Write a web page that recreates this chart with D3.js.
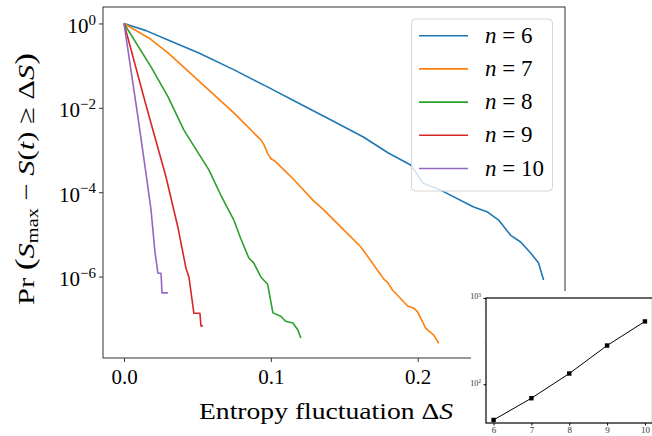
<!DOCTYPE html>
<html><head><meta charset="utf-8">
<script src="https://cdn.jsdelivr.net/npm/d3@7"></script>
<style>
html,body{margin:0;padding:0;background:#fff;}
svg{display:block;}
text{font-family:"Liberation Serif","Times New Roman",serif;}
</style></head>
<body>
<svg id="chart" width="652" height="436"></svg>
<script>
// ---------- data ----------
const seriesLabels = ["6", "7", "8", "9", "10"];
const seriesColors = ["#1f77b4", "#ff7f0e", "#2ca02c", "#d62728", "#9467bd"];

const ds6 = [0, 0.015, 0.030, 0.051, 0.075, 0.098, 0.120, 0.141, 0.163, 0.180, 0.1952, 0.1986, 0.2034, 0.2156, 0.2381, 0.2476, 0.2551, 0.2633, 0.2701, 0.2769, 0.2823, 0.2857];
const p6  = [1, 0.676, 0.407, 0.200, 0.0794, 0.0309, 0.0123, 5.13e-3, 2.04e-3, 8.5e-4, 4.42e-4, 3.02e-4, 1.66e-4, 1.12e-4, 4.47e-5, 3.39e-5, 2.19e-5, 9.5e-6, 6.6e-6, 3.63e-6, 2.09e-6, 8.3e-7];

const ds7 = [0, 0.018, 0.030, 0.0524, 0.0748, 0.0932, 0.0954, 0.0978, 0.100, 0.1034, 0.1159, 0.1286, 0.136, 0.1476, 0.1612, 0.1726, 0.1769, 0.1794, 0.1828, 0.1932, 0.1973, 0.1998, 0.2054, 0.2109, 0.2143];
const p7  = [1, 0.427, 0.200, 0.0389, 7.59e-3, 1.74e-3, 1.32e-3, 8.3e-4, 6.3e-4, 5.25e-4, 1.95e-4, 6.5e-5, 3.8e-5, 1.51e-5, 5.1e-6, 1.41e-6, 8.7e-7, 7.4e-7, 4.8e-7, 2.0e-7, 1.78e-7, 1.48e-7, 6.0e-8, 4.1e-8, 2.63e-8];

const ds8 = [0, 0.0184, 0.030, 0.0408, 0.0578, 0.0658, 0.0748, 0.0794, 0.085, 0.0884, 0.0932, 0.0978, 0.1014, 0.1068, 0.110, 0.1150, 0.1184, 0.1204];
const p8  = [1, 0.0933, 0.0182, 2.95e-3, 3.39e-4, 8.7e-5, 2.19e-5, 8.1e-6, 2.75e-6, 2.09e-6, 9.8e-7, 6.6e-7, 1.38e-7, 1.15e-7, 8.7e-8, 7.9e-8, 5.4e-8, 3.5e-8];

const ds9 = [0, 0.0143, 0.0286, 0.0367, 0.0422, 0.0442, 0.0476, 0.0517, 0.0524, 0.0537];
const p9  = [1, 0.0141, 2.29e-4, 1.48e-5, 1.58e-6, 9.8e-7, 1.35e-7, 1.35e-7, 6.8e-8, 6.8e-8];

const ds10 = [0, 0.0095, 0.0156, 0.0184, 0.0211, 0.0231, 0.0252, 0.0259, 0.0299];
const p10  = [1, 6.0e-3, 1.95e-4, 3.8e-5, 3.8e-6, 1.2e-6, 1.2e-6, 4.1e-7, 4.1e-7];

const xTicks = [0.0, 0.1, 0.2];
const xTickLabels = ["0.0", "0.1", "0.2"];
const yTicks = [1, 1e-2, 1e-4, 1e-6];
const yTickExps = ["0", "−2", "−4", "−6"];

// inset data
const insetN = [6, 7, 8, 9, 10];
const insetVals = [38.5, 68.8, 133, 281, 535];
const insetYTicks = [100, 1000];
const insetYExps = ["2", "3"];

// ---------- layout ----------
const svg = d3.select("#chart");
const M = {left: 103, right: 565, top: 7, bottom: 358};

const x = d3.scaleLinear().domain([-0.0143, 0.3003]).range([M.left, M.right]);
const y = d3.scaleLog().domain([Math.pow(10, -7.93), Math.pow(10, 0.39)]).range([M.bottom, M.top]);

const series = [
  {ds: ds6, p: p6}, {ds: ds7, p: p7}, {ds: ds8, p: p8}, {ds: ds9, p: p9}, {ds: ds10, p: p10}
];

const line = d3.line().x(d => x(d[0])).y(d => y(d[1]));

const gLines = svg.append("g");
series.forEach((s, i) => {
  const pts = s.ds.map((d, j) => [d, s.p[j]]);
  gLines.append("path").attr("d", line(pts))
    .attr("fill", "none").attr("stroke", seriesColors[i]).attr("stroke-width", 1.6)
    .attr("stroke-linejoin", "round");
});

// frame
svg.append("rect").attr("x", M.left).attr("y", M.top)
  .attr("width", M.right - M.left).attr("height", M.bottom - M.top)
  .attr("fill", "none").attr("stroke", "#333").attr("stroke-width", 1);

// x axis
const xAxis = d3.axisBottom(x).tickValues(xTicks).tickSize(4).tickFormat((d, i) => xTickLabels[i]);
const gx = svg.append("g").attr("transform", `translate(0,${M.bottom})`).call(xAxis);
gx.select(".domain").remove();
gx.selectAll(".tick line").attr("stroke", "#333");
gx.selectAll(".tick text").attr("font-family", "Liberation Serif, serif").attr("font-size", 21).attr("fill", "#000").attr("dy", "0.9em");

// y axis
const yAxis = d3.axisLeft(y).tickValues(yTicks).tickSize(4).tickFormat("");
const gy = svg.append("g").attr("transform", `translate(${M.left},0)`).call(yAxis);
gy.select(".domain").remove();
gy.selectAll(".tick line").attr("stroke", "#333");
gy.selectAll(".tick").each(function(d, i) {
  const t = d3.select(this).append("text")
    .attr("x", -7).attr("y", 0).attr("dy", "0.42em")
    .attr("text-anchor", "end").attr("fill", "#000")
    .attr("font-family", "Liberation Serif, serif").attr("font-size", 21);
  t.append("tspan").text("10");
  t.append("tspan").attr("dy", "-0.55em").attr("font-size", 15).text(yTickExps[i]);
});

// axis labels
const xl = svg.append("text").attr("x", 326).attr("y", 419).attr("text-anchor", "middle")
  .attr("font-size", 24).attr("fill", "#000")
  .attr("textLength", 254).attr("lengthAdjust", "spacingAndGlyphs");
xl.append("tspan").text("Entropy fluctuation Δ");
xl.append("tspan").attr("font-style", "italic").text("S");

const yl = svg.append("text").attr("transform", "translate(34,179) rotate(-90)")
  .attr("text-anchor", "middle").attr("font-size", 24).attr("fill", "#000")
  .attr("textLength", 252).attr("lengthAdjust", "spacingAndGlyphs");
yl.append("tspan").text("Pr ");
yl.append("tspan").attr("font-size", 28).text("(");
yl.append("tspan").attr("font-style", "italic").text("S");
yl.append("tspan").attr("font-size", 16).attr("dy", 4).text("max");
yl.append("tspan").attr("dy", -4).text("  −  ");
yl.append("tspan").attr("font-style", "italic").text("S");
yl.append("tspan").text("(");
yl.append("tspan").attr("font-style", "italic").text("t");
yl.append("tspan").text(")  ≥  Δ");
yl.append("tspan").attr("font-style", "italic").text("S");
yl.append("tspan").attr("font-size", 28).text(")");

// legend
const lg = svg.append("g");
lg.append("rect").attr("x", 411.5).attr("y", 19).attr("width", 141).attr("height", 172)
  .attr("rx", 4).attr("fill", "#fff").attr("fill-opacity", 0.8)
  .attr("stroke", "#d6d6d6").attr("stroke-width", 1);
const legY = d3.scalePoint().domain(seriesLabels).range([35.7, 168.5]);
seriesLabels.forEach((lab, i) => {
  const yy = legY(lab);
  lg.append("line").attr("x1", 419).attr("x2", 468).attr("y1", yy).attr("y2", yy)
    .attr("stroke", seriesColors[i]).attr("stroke-width", 1.6);
  const t = lg.append("text").attr("x", 485).attr("y", yy + 7).attr("font-size", 23).attr("fill", "#000");
  t.append("tspan").attr("font-style", "italic").text("n");
  t.append("tspan").text(" = " + lab);
});

// ---------- inset ----------
svg.append("rect").attr("x", 471).attr("y", 291).attr("width", 181).attr("height", 145).attr("fill", "#fff");
const I = {left: 486, right: 652.5, top: 298, bottom: 423};
const ix = d3.scaleLinear().domain([5.8, 10.2]).range([I.left, I.right]);
const iy = d3.scaleLog().domain([Math.pow(10, 1.55), 1000]).range([I.bottom, I.top]);

svg.append("path").attr("d", d3.line().x(d => ix(d[0])).y(d => iy(d[1]))(insetN.map((n, i) => [n, insetVals[i]])))
  .attr("fill", "none").attr("stroke", "#000").attr("stroke-width", 1);
svg.append("g").selectAll("rect").data(insetN).join("rect")
  .attr("x", (d) => ix(d) - 2.2).attr("y", (d, i) => iy(insetVals[i]) - 2.2)
  .attr("width", 4.4).attr("height", 4.4).attr("fill", "#000");

svg.append("rect").attr("x", I.left).attr("y", I.top).attr("width", I.right - I.left).attr("height", I.bottom - I.top)
  .attr("fill", "none").attr("stroke", "#000").attr("stroke-width", 1.2);

const gix = svg.append("g").attr("transform", `translate(0,${I.bottom})`)
  .call(d3.axisBottom(ix).tickValues(insetN).tickSize(2.5).tickFormat(d3.format("d")));
gix.select(".domain").remove();
gix.selectAll(".tick text").attr("font-family", "Liberation Serif, serif").attr("font-size", 9).attr("fill", "#333").attr("dy", "0.55em");

const minorTicks = [40, 50, 60, 70, 80, 90, 200, 300, 400, 500, 600, 700, 800, 900];
const giy = svg.append("g").attr("transform", `translate(${I.left},0)`)
  .call(d3.axisLeft(iy).tickValues(minorTicks).tickSize(1.5).tickFormat(""));
giy.select(".domain").remove();
giy.selectAll(".tick line").attr("stroke", "#888").attr("stroke-width", 0.6);
const giy2 = svg.append("g").attr("transform", `translate(${I.left},0)`)
  .call(d3.axisLeft(iy).tickValues(insetYTicks).tickSize(2.5).tickFormat(""));
giy2.select(".domain").remove();
giy2.selectAll(".tick").each(function(d, i) {
  const t = d3.select(this).append("text").attr("x", -5).attr("dy", "0.1em")
    .attr("text-anchor", "end").attr("font-size", 8).attr("fill", "#333");
  t.append("tspan").text("10");
  t.append("tspan").attr("dy", "-0.4em").attr("font-size", 5.5).text(insetYExps[i]);
});
</script>
</body></html>
